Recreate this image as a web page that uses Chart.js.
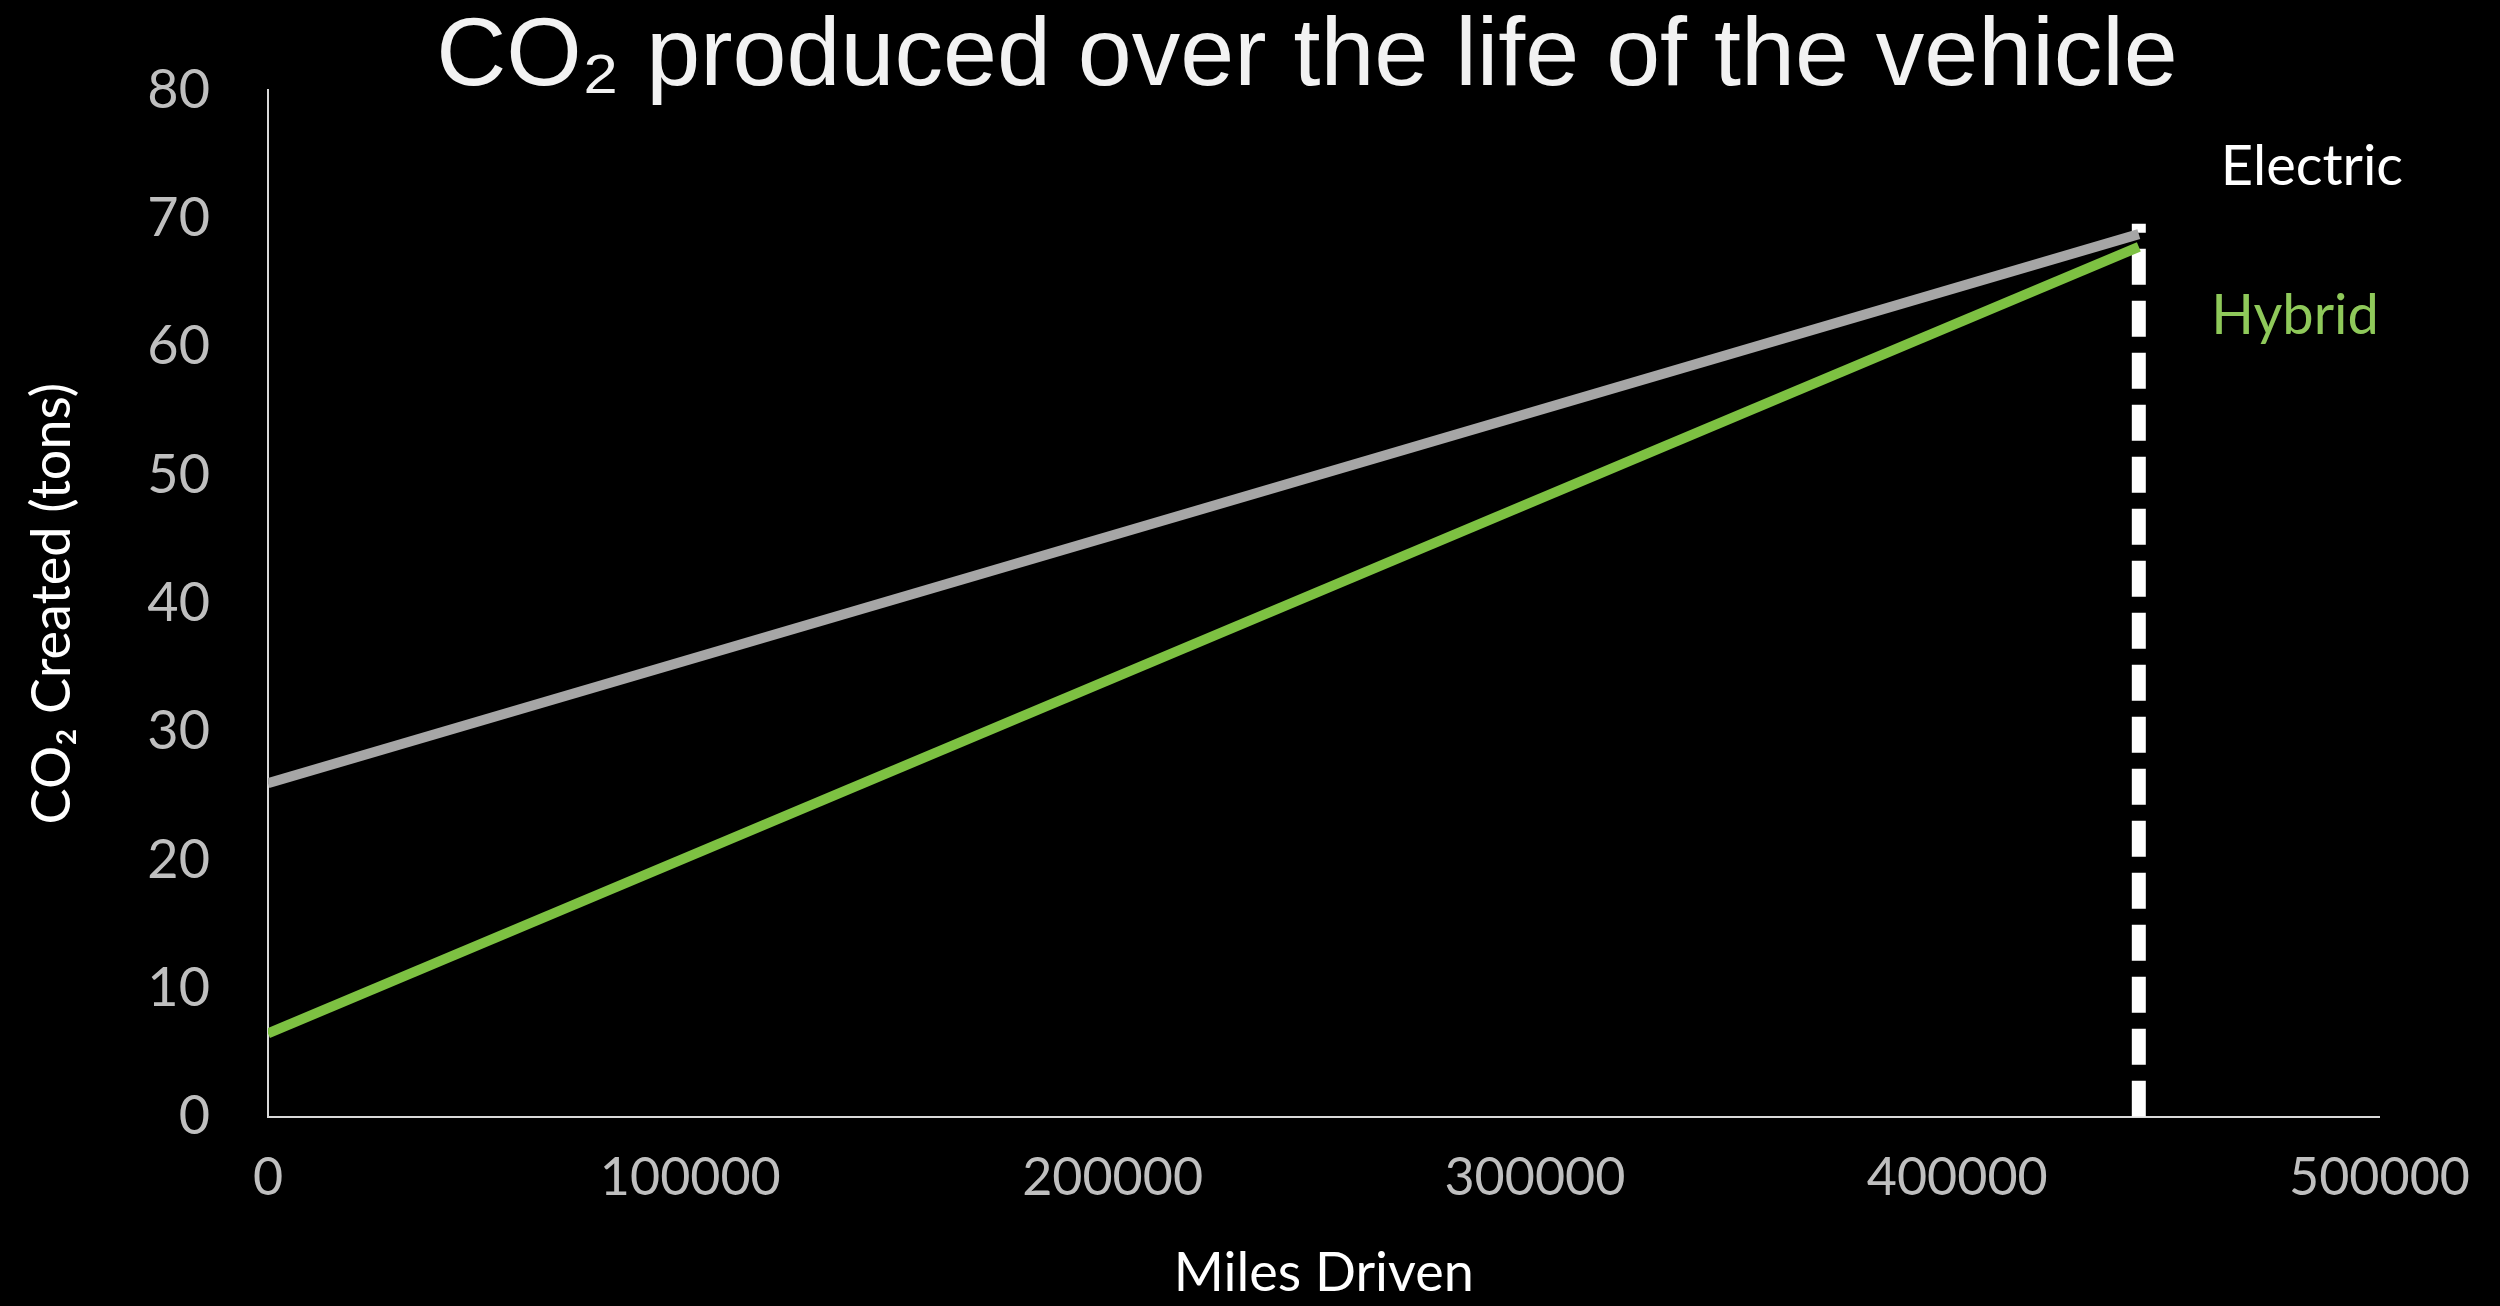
<!DOCTYPE html>
<html><head><meta charset="utf-8">
<script src="https://cdn.jsdelivr.net/npm/chart.js@4"></script>
<style>html,body{margin:0;background:#000;}#w{width:2500px;height:1306px;}</style>
</head><body><div id="w"><canvas id="c"></canvas></div>
<script>
const miles = [0, 443000];
const electric = [26, 68.8];
const hybrid = [6.5, 67.8];
const endMarker = [[443000, 0], [443000, 69.6]];
const xTicks = [0, 100000, 200000, 300000, 400000, 500000];
const yTicks = [0, 10, 20, 30, 40, 50, 60, 70, 80];
const seriesLabels = [{text:'Electric', x:484000, y:74, color:'#ffffff'}, {text:'Hybrid', x:480000, y:62.4, color:'#8fc95a'}];
const titleText = 'CO\u2082 produced over the life of the vehicle';

const overlay = {
  id:'overlay',
  afterDraw(chart){
    const {ctx, scales:{x,y}} = chart;
    ctx.save();
    ctx.textAlign='center'; ctx.textBaseline='middle';
    ctx.font='56px Lato, "Open Sans", sans-serif';
    seriesLabels.forEach(l=>{ctx.fillStyle=l.color; ctx.fillText(l.text, x.getPixelForValue(l.x), y.getPixelForValue(l.y));});
    ctx.fillStyle='#f2f2f2';
    ctx.font='97px "Liberation Sans", Arial, sans-serif';
    ctx.fillText(titleText, 1307, 58);
    ctx.restore();
  }
};

const fontF = 'Lato, "Open Sans", sans-serif';
new Chart(document.getElementById('c'), {
  type:'line',
  data:{datasets:[
    {data:miles.map((m,i)=>({x:m,y:electric[i]})), borderColor:'#a6a6a6', borderWidth:10, pointRadius:0},
    {data:miles.map((m,i)=>({x:m,y:hybrid[i]})), borderColor:'#7dc142', borderWidth:10, pointRadius:0},
    {data:endMarker.map(p=>({x:p[0],y:p[1]})), borderColor:'#ffffff', borderWidth:14, borderDash:[36,16], pointRadius:0}
  ]},
  options:{
    responsive:true, maintainAspectRatio:false, animation:false,
    layout:{padding:{top:83,right:110,left:20,bottom:0}},
    plugins:{legend:{display:false}, tooltip:{enabled:false}},
    scales:{
      x:{type:'linear', min:0, max:500000,
        afterBuildTicks(s){s.ticks=xTicks.map(v=>({value:v}));},
        grid:{display:false, drawTicks:false},
        border:{color:'#d9d9d9', width:2},
        ticks:{color:'#bfbfbf', padding:30, callback:v=>String(v), font:{size:52, family:fontF}},
        title:{display:true, text:'Miles Driven', color:'#ffffff', padding:{top:2,bottom:0}, font:{size:54, family:fontF}}
      },
      y:{min:0, max:80,
        afterBuildTicks(s){s.ticks=yTicks.map(v=>({value:v}));},
        afterFit(s){s.width=248;},
        grid:{display:false, drawTicks:false},
        border:{color:'#d9d9d9', width:2},
        ticks:{color:'#bfbfbf', padding:58, font:{size:54, family:fontF}},
        title:{display:true, text:'CO\u2082 Created (tons)', color:'#ffffff', padding:0, font:{size:54, family:fontF}}
      }
    }
  },
  plugins:[overlay]
});
</script></body></html>
